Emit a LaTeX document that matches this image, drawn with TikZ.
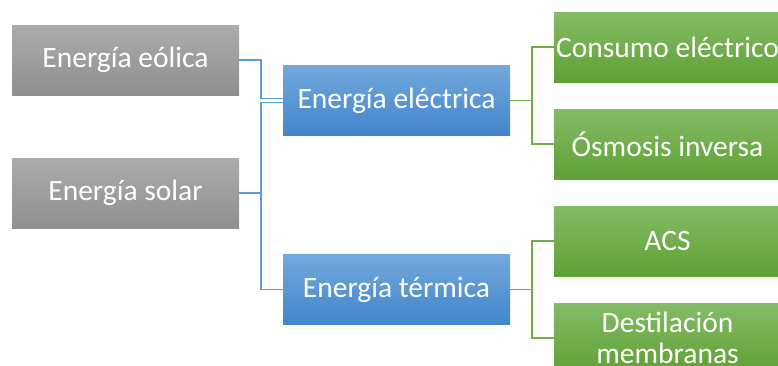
\documentclass[tikz,border=0pt]{standalone}
\usepackage{fontspec}
\setmainfont{Carlito}
\definecolor{grisA}{HTML}{ACACAC}
\definecolor{grisB}{HTML}{8F8F8F}
\definecolor{azulA}{HTML}{72A8DD}
\definecolor{azulB}{HTML}{4186CB}
\definecolor{verdeA}{HTML}{84BC66}
\definecolor{verdeB}{HTML}{5FA033}
\definecolor{lineaAzul}{HTML}{5B9BD5}
\definecolor{lineaVerde}{HTML}{70AD47}
\tikzset{
    caja/.style={minimum width=227pt, minimum height=70pt, inner sep=0pt,
        text=white, align=center, font=\fontsize{29.5}{31}\selectfont},
    fuente/.style={caja, top color=grisA, bottom color=grisB},
    forma/.style={caja, top color=azulA, bottom color=azulB},
    uso/.style={caja, top color=verdeA, bottom color=verdeB},
    unionA/.style={lineaAzul, line width=1.3pt},
    unionV/.style={lineaVerde, line width=1.3pt}
}
\begin{document}
\begin{tikzpicture}[x=1pt, y=-1pt]
    \useasboundingbox (0,0) rectangle (778,365);
    \clip (0,0) rectangle (778,365);
    % fuentes
    \node[fuente] (eolica) at (125.5,60) {Energía eólica};
    \node[fuente] (solar) at (125.5,193) {Energía solar};
    % formas de energia
    \node[forma] (electrica) at (396.5,100.5) {Energía eléctrica};
    \node[forma] (termica) at (396.5,289.5) {Energía térmica};
    % usos
    \node[uso] (consumo) at (667.5,47) {Consumo eléctrico};
    \node[uso] (osmosis) at (667.5,144) {Ósmosis inversa};
    \node[uso] (acs) at (667.5,241) {ACS};
    \node[uso] (destil) at (667.5,338) {Destilación\\membranas};
    % uniones
    \draw[unionA] (eolica.east) -| ([yshift=2pt]electrica.west -| 261,0) -- ([yshift=2pt]electrica.west);
    \draw[unionA] ([yshift=-2pt]electrica.west) -| (termica.west -| 261,0) -- (termica.west);
    \draw[unionA] (solar.east) -- (261,193);
    \foreach \fin in {consumo,osmosis}{
        \draw[unionV] (electrica.east) -| (532,100.5) |- (\fin.west);
    }
    \foreach \fin in {acs,destil}{
        \draw[unionV] (termica.east) -| (532,289.5) |- (\fin.west);
    }
\end{tikzpicture}
\end{document}
